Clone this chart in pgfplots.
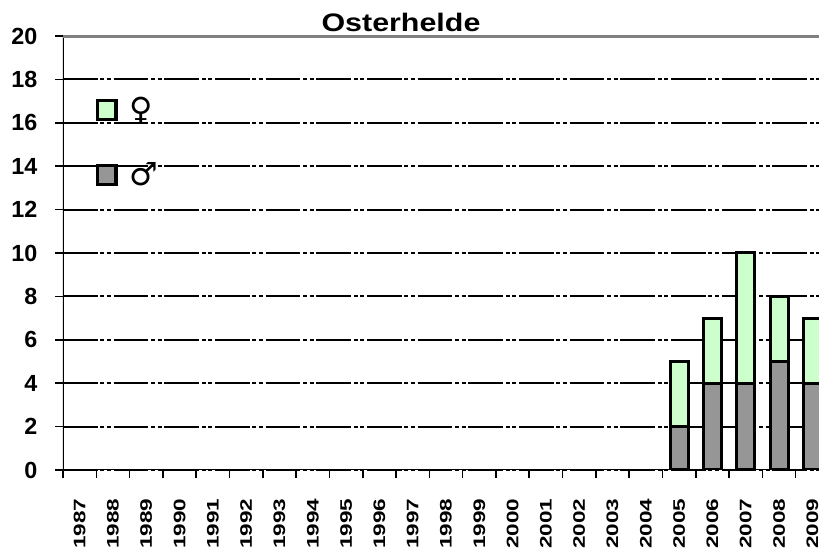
\documentclass[border=0pt]{standalone}
\usepackage{fontspec}
\setmainfont{Liberation Sans}
\newfontfamily\symfont{DejaVu Sans}
\usepackage{pgfplots}
\pgfplotsset{compat=1.18}
\definecolor{fem}{HTML}{CCFFCC}
\definecolor{mal}{HTML}{969696}
\definecolor{topgray}{HTML}{808080}
\newcommand\xl[1]{\scalebox{1.35}[1]{#1}}
\begin{document}
\begin{tikzpicture}
\path[use as bounding box] (0,0) rectangle (614.25pt,414pt);
\clip (0,0) rectangle (614.25pt,414pt);
\begin{axis}[
  at={(47.25pt,61.5pt)}, anchor=south west,
  scale only axis, width=567pt, height=325.5pt,
  ybar stacked, bar width=0.54,
  xmin=-0.5, xmax=22.2, ymin=0, ymax=20,
  ytick={0,2,...,20},
  xtick={0,...,22},
  xticklabels={\xl{1987},\xl{1988},\xl{1989},\xl{1990},\xl{1991},\xl{1992},\xl{1993},\xl{1994},\xl{1995},\xl{1996},\xl{1997},\xl{1998},\xl{1999},\xl{2000},\xl{2001},\xl{2002},\xl{2003},\xl{2004},\xl{2005},\xl{2006},\xl{2007},\xl{2008},\xl{2009}},
  minor xtick={-0.5,0.5,...,22.5},
  xtick pos=left, ytick pos=left,
  tick align=outside,
  major tick length=6pt, minor tick length=6pt,
  major x tick style={draw=none},
  minor x tick style={black, line width=1.2pt},
  major y tick style={black, line width=1.2pt},
  ymajorgrids,
  major grid style={black, line width=1.4pt, dash pattern=on 26pt off 2pt on 3pt off 2pt on 3pt off 2pt},
  axis line style={draw=none},
  /pgf/number format/assume math mode=true,
  yticklabel style={font=\bfseries\fontsize{17.5}{20}\selectfont, inner sep=0pt, anchor=east},
  yticklabel shift=13pt,
  xticklabel style={font=\bfseries\fontsize{12.5}{14}\selectfont, rotate=90, anchor=east, inner sep=0pt},
  xticklabel shift=15.5pt,
  legend image code/.code={\draw[#1, line width=2.4pt] (0pt,-7pt) rectangle (14pt,7pt);},
  reverse legend,
  legend style={draw=none, fill=none, at={(rel axis cs:0.043,0.866)}, anchor=north west,
    font=\symfont\fontsize{24}{26}\selectfont, row sep=26pt, inner sep=0pt},
  legend cell align=left,
]
\addplot[fill=mal, draw=black, line width=2.25pt] coordinates {(18,2) (19,4) (20,4) (21,5) (22,4)};
\addplot[fill=fem, draw=black, line width=2.25pt] coordinates {(18,3) (19,3) (20,6) (21,3) (22,3)};
\legend{\hspace*{7pt}♂,\hspace*{7pt}♀}
\draw[topgray, line width=2pt] ([yshift=-1.6pt]rel axis cs:0,0) -- ([yshift=-1.6pt]rel axis cs:1,0);
\draw[black, line width=1.3pt] (rel axis cs:0,0) -- (rel axis cs:1,0);
\draw[topgray, line width=3pt] (rel axis cs:0,1) -- (rel axis cs:1,1);
\draw[black, line width=1.5pt] (rel axis cs:0,0) -- (rel axis cs:0,1);
\end{axis}
\node[anchor=base, font=\bfseries\fontsize{19}{22}\selectfont] at (300.75pt,390pt) {\scalebox{1.2}[1]{Osterhelde}};
\end{tikzpicture}
\end{document}
